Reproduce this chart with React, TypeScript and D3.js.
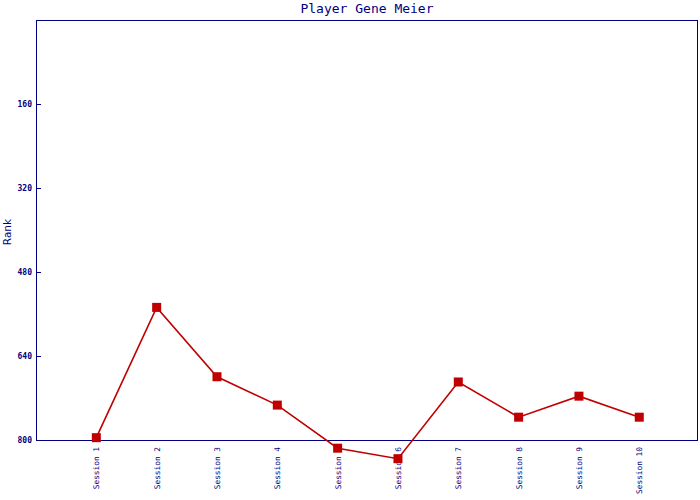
import React from "react";
import * as d3 from "d3";

const title = "Player Gene Meier";
const yLabel = "Rank";
const sessions = ["Session 1","Session 2","Session 3","Session 4","Session 5","Session 6","Session 7","Session 8","Session 9","Session 10"];
const ranks = [795, 547, 679, 733, 815, 835, 689, 756, 716, 756];
const yTicks = [160, 320, 480, 640, 800];

const W = 700, H = 500;
const left = 36.5, right = 697.5, top = 20.5, bottom = 440.5;
const axisColor = "#000080";
const lineColor = "#c00000";
const mono = "'DejaVu Sans Mono', monospace";

export default function App() {
  const x = d3.scalePoint<string>().domain(sessions).range([36, 699.6]).padding(1);
  const y = d3.scaleLinear().domain([0, 800]).range([20, 440.3]);
  const line = d3.line<number>().x((_, i) => x(sessions[i])!).y((d) => y(d));
  return (
    <svg width={W} height={H} style={{ position: "absolute", left: 0, top: 0, background: "#fff" }}>
      <rect x={0} y={0} width={W} height={H} fill="#fff" />
      <text x={(left + right) / 2} y={13} textAnchor="middle" fontFamily={mono} fontSize={13} fill={axisColor}>{title}</text>
      <rect x={left} y={top} width={right - left} height={bottom - top} fill="none" stroke={axisColor} strokeWidth={1} shapeRendering="crispEdges" />
      {yTicks.map((t) => (
        <g key={t}>
          <line x1={left} x2={left + 4} y1={Math.round(y(t)) + 0.5} y2={Math.round(y(t)) + 0.5} stroke={axisColor} shapeRendering="crispEdges" />
          <text x={32} y={y(t)} dy="0.33em" textAnchor="end" fontFamily={mono} fontSize={8} fontWeight="bold" fill={axisColor}>{t}</text>
        </g>
      ))}
      <text transform={`translate(11,232) rotate(-90)`} textAnchor="middle" fontFamily="'DejaVu Sans', sans-serif" fontSize={10.5} fill={axisColor}>{yLabel}</text>
      {sessions.map((s) => (
        <text key={s} transform={`translate(${x(s)! + 3},447) rotate(-90)`} textAnchor="end" fontFamily={mono} fontSize={7.8} fill={axisColor}>{s}</text>
      ))}
      <path d={line(ranks) || ""} fill="none" stroke={lineColor} strokeWidth={1.6} />
      {ranks.map((v, i) => (
        <rect key={i} x={x(sessions[i])! - 4.5} y={y(v) - 4.5} width={9} height={9} fill={lineColor} />
      ))}
    </svg>
  );
}
